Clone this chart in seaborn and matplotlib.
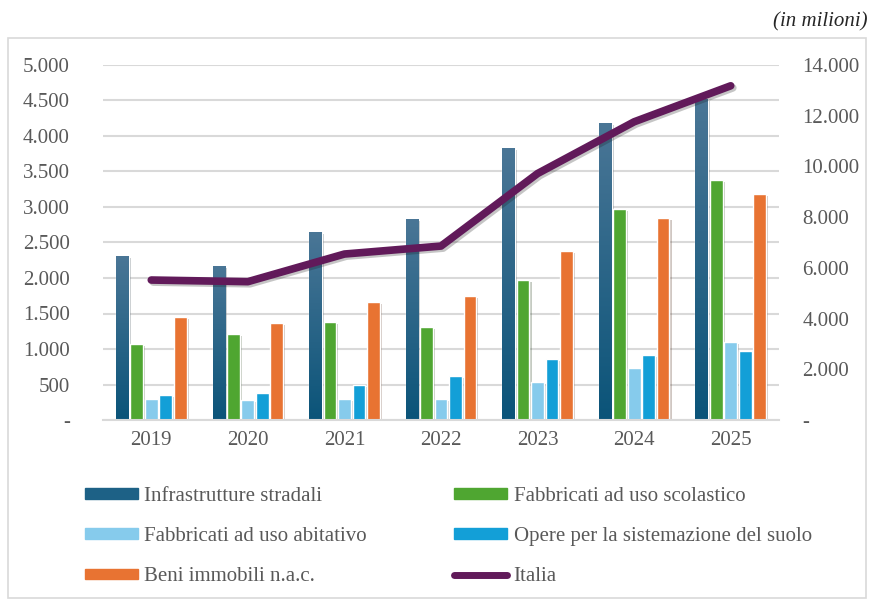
import numpy as np
import pandas as pd
import matplotlib
matplotlib.use("Agg")
import matplotlib.pyplot as plt
import matplotlib.patheffects as pe
from matplotlib.patches import Patch, Rectangle
from matplotlib.lines import Line2D
from matplotlib.ticker import FuncFormatter
import seaborn as sns

years = ["2019", "2020", "2021", "2022", "2023", "2024", "2025"]
series_names = ["Infrastrutture stradali", "Fabbricati ad uso scolastico",
                "Fabbricati ad uso abitativo", "Opere per la sistemazione del suolo",
                "Beni immobili n.a.c."]
infrastrutture = [2310, 2170, 2650, 2830, 3830, 4185, 4520]
scolastico = [1070, 1210, 1380, 1310, 1975, 2970, 3380]
abitativo = [296, 282, 296, 296, 535, 735, 1100]
suolo = [347, 380, 498, 620, 860, 915, 965]
beni = [1455, 1366, 1662, 1746, 2380, 2845, 3185]
italia = [5520, 5455, 6545, 6860, 9720, 11760, 13180]

colors = ["#1d6186", "#4fa631", "#86cbec", "#139fd7", "#e87332"]
line_color = "#611a5a"
text_color = "#595959"
FS = 15

sns.set_theme(style="white")
plt.rcParams["font.family"] = ["Liberation Serif", "DejaVu Serif"]

df = pd.DataFrame({
    "anno": np.repeat(years, 5),
    "serie": series_names * len(years),
    "valore": np.column_stack([infrastrutture, scolastico, abitativo, suolo, beni]).ravel(),
})

fig = plt.figure(figsize=(8.72, 5.99), dpi=100)
ax = fig.add_axes([103 / 872, 1 - 420 / 599, 676 / 872, 355 / 599])

sns.barplot(data=df, x="anno", y="valore", hue="serie", hue_order=series_names,
            palette=colors, width=0.75, gap=0.12, ax=ax, legend=False,
            saturation=1, errorbar=None)

shadow = [pe.SimplePatchShadow(offset=(1.5, -1.5), alpha=0.25), pe.Normal()]
for cont in ax.containers:
    for bar in cont:
        bar.set_path_effects(shadow)

# gradient on the first series
grad = np.linspace(0, 1, 100).reshape(-1, 1)
cmap = matplotlib.colors.LinearSegmentedColormap.from_list("g", ["#0b5479", "#4a7696"])
for bar in ax.containers[0]:
    x0, y0 = bar.get_x(), bar.get_y()
    w, h = bar.get_width(), bar.get_height()
    im = ax.imshow(grad, extent=[x0, x0 + w, y0, y0 + h], origin="lower",
                   cmap=cmap, aspect="auto", zorder=bar.get_zorder() + 0.1)
    im.set_clip_path(bar)

fmt = FuncFormatter(lambda v, p: "-" if v == 0 else f"{v:,.0f}".replace(",", "."))

ax.set_xlim(-0.5, len(years) - 0.5)
ax.set_ylim(0, 5000)
ax.set_yticks(np.arange(0, 5001, 500))
ax.yaxis.set_major_formatter(fmt)
ax.set_xlabel("")
ax.set_ylabel("")
ax.grid(axis="y", color="#d9d9d9", linewidth=1.5)
ax.set_axisbelow(True)
for s in ["top", "right", "left"]:
    ax.spines[s].set_visible(False)
ax.spines["bottom"].set_color("#d9d9d9")
ax.spines["bottom"].set_linewidth(1.5)
ax.tick_params(axis="y", length=0, pad=24, labelsize=FS, labelcolor=text_color)
ax.tick_params(axis="x", length=0, pad=8, labelsize=FS, labelcolor=text_color)

ax2 = ax.twinx()
sns.lineplot(x=np.arange(len(years)), y=italia, ax=ax2, color=line_color,
             linewidth=5.5, solid_capstyle="round", solid_joinstyle="round",
             path_effects=[pe.SimpleLineShadow(offset=(1.5, -1.5), alpha=0.25), pe.Normal()])
ax2.set_ylim(0, 14000)
ax2.set_yticks(np.arange(0, 14001, 2000))
ax2.yaxis.set_major_formatter(fmt)
for s in ["top", "right", "left", "bottom"]:
    ax2.spines[s].set_visible(False)
ax2.tick_params(axis="y", length=0, pad=17, labelsize=FS, labelcolor=text_color)
ax2.grid(False)

fig.text(868 / 872, 1 - 22 / 599, "(in milioni)", ha="right", va="center",
         fontsize=FS, style="italic", color="#262626")

fig.patches.append(Rectangle((8 / 872, 0.002), 858 / 872, 1 - 38 / 599 - 0.002,
                             transform=fig.transFigure, fill=False,
                             edgecolor="#d9d9d9", linewidth=1.2))

handles = [Patch(color=colors[0]), Patch(color=colors[2]), Patch(color=colors[4]),
           Patch(color=colors[1]), Patch(color=colors[3]),
           Line2D([0], [0], color=line_color, linewidth=5, solid_capstyle="round")]
labels = [series_names[0], series_names[2], series_names[4],
          series_names[1], series_names[3], "Italia"]
fig.legend(handles, labels, ncol=2, loc="upper left",
           bbox_to_anchor=(66 / 872, 1 - 468 / 599), frameon=False,
           fontsize=FS, labelcolor=text_color, handlelength=2.55, handleheight=0.4,
           handletextpad=0.3, columnspacing=4.2, labelspacing=1.02)

fig.savefig("out.png", dpi=100)
